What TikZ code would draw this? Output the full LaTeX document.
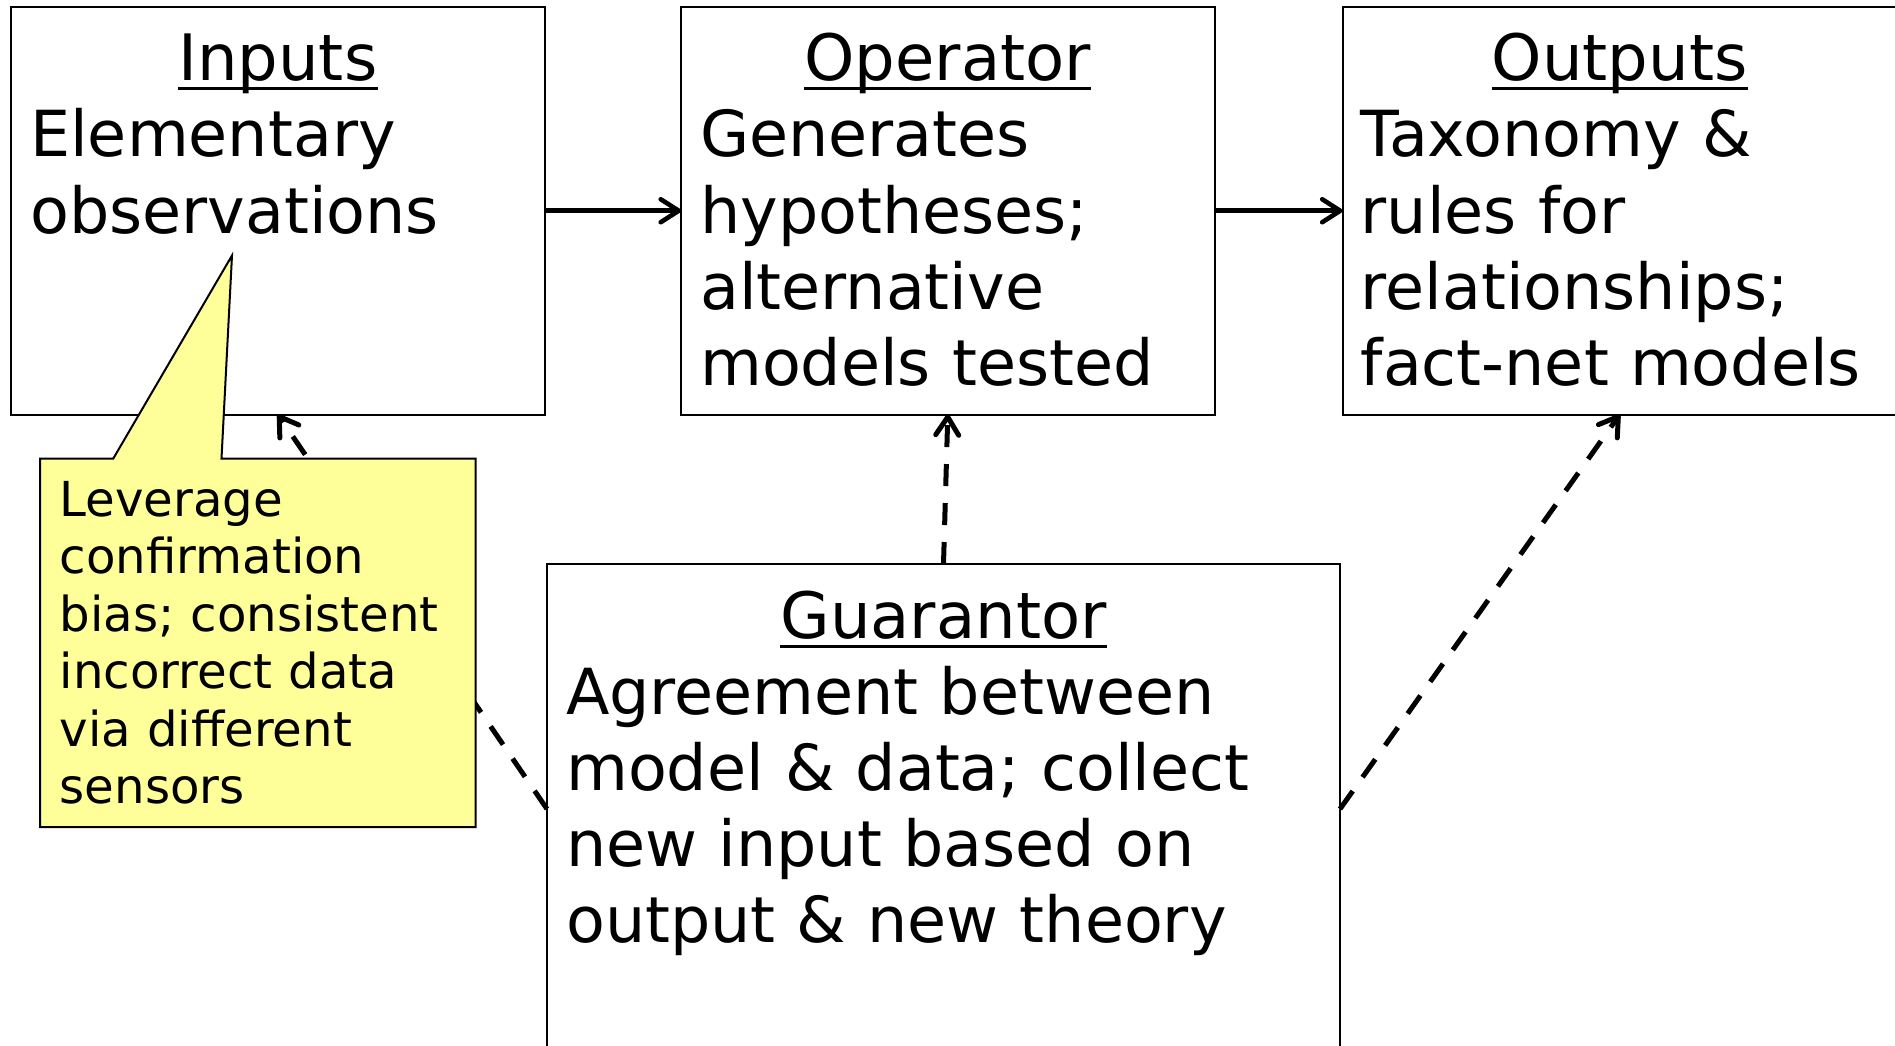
\documentclass[tikz,border=0pt]{standalone}
\usepackage{fontspec}
\setmainfont{DejaVu Sans}
\usetikzlibrary{arrows.meta}
\definecolor{noteyellow}{RGB}{255,255,153}
\begin{document}
\begin{tikzpicture}[x=1pt,y=-1pt,
  box/.style={draw=black, line width=2pt, rectangle, inner sep=0pt, outer sep=0pt, fill=white},
  heading/.style={font=\fontsize{64}{76}\selectfont, inner sep=0pt, anchor=base},
  bodytext/.style={font=\fontsize{63.5}{76.3}\selectfont, inner sep=0pt, anchor=base west, align=left},
  notetext/.style={font=\fontsize{48.2}{57.5}\selectfont, inner sep=0pt, anchor=base west, align=left, text width=420pt},
  underbar/.style={line width=3pt},
  flow/.style={line width=4.6pt, -{Straight Barb[length=18pt,width=23pt,round]}},
  feedback/.style={line width=5pt, dash pattern=on 22pt off 17pt, -{Straight Barb[length=18pt,width=23pt,round]}},
  note/.style={draw=black, line width=2pt, fill=noteyellow, line join=miter}
]
\useasboundingbox (0,0) rectangle (1895,1046);
\clip (0,0) rectangle (1895,1046);

% the four boxes
\node[box, minimum width=533.6pt, minimum height=407.5pt] (inputs)    at (277.8,210.75) {};
\node[box, minimum width=533.6pt, minimum height=407.5pt] (operator)  at (947.8,210.75) {};
\node[box, minimum width=554.5pt, minimum height=407.5pt] (outputs)   at (1619.75,210.75) {};
\node[box, minimum width=793pt,   minimum height=490pt]   (guarantor) at (943.5,809) {};

% headings and their underlines
\foreach \b/\t in {inputs/Inputs, operator/Operator, outputs/Outputs, guarantor/Guarantor}{
  \node[heading] (\b-title) at ([yshift=-74pt]\b.north) {\t};
  \draw[underbar] ([yshift=-8pt]\b-title.base west) -- ([yshift=-8pt]\b-title.base east);
}

% box contents
\node[bodytext, text width=500pt] (inputs-body) at ([xshift=19pt,yshift=-150pt]inputs.north west)
  {Elementary\\observations};
\node[bodytext, text width=500pt] (operator-body) at ([xshift=19pt,yshift=-150pt]operator.north west)
  {Generates\\hypotheses;\\alternative\\models tested};
\node[bodytext, text width=530pt] (outputs-body) at ([xshift=18pt,yshift=-150pt]outputs.north west)
  {Taxonomy \&\\rules for\\relationships;\\fact-net models};
\node[bodytext, text width=760pt] (guarantor-body) at ([xshift=19pt,yshift=-150pt]guarantor.north west)
  {Agreement between\\model \& data; collect\\new input based on\\output \& new theory};

% main flow
\draw[flow] (inputs.east) -- (operator.west);
\draw[flow] (operator.east) -- (outputs.west);

% feedback from the guarantor
\draw[feedback] (guarantor.north) -- (operator.south);
\draw[feedback] (guarantor.east) -- (outputs.south);
\draw[feedback] (guarantor.west) -- (inputs.south);

% callout with its pointer
\draw[note] (40,458.5) -- (113.3,458.5) -- (232,255.5) -- (221.5,458.5) -- (475.5,458.5)
  -- (475.5,827) -- (40,827) -- cycle;
\node[notetext] (note-body) at (59.5,516)
  {Leverage\\confirmation\\bias; consistent\\incorrect data\\via different\\sensors};
\end{tikzpicture}
\end{document}
